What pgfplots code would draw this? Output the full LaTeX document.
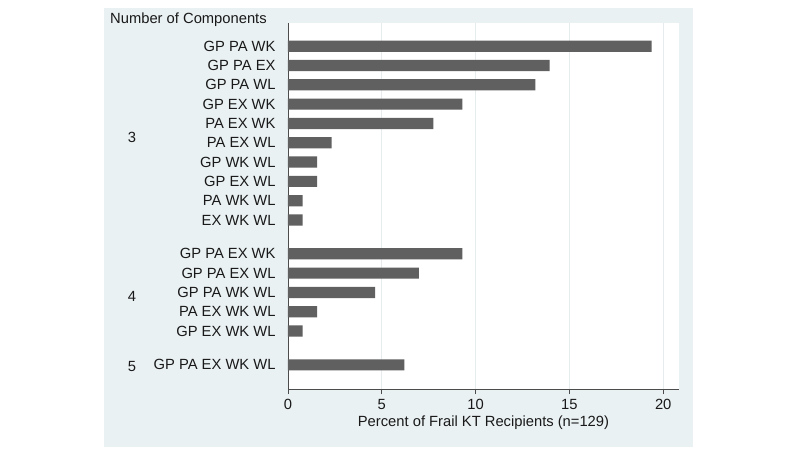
\documentclass[border=0pt]{standalone}
\usepackage{pgfplots}
\pgfplotsset{compat=1.18}
\usepackage{fontspec}
\setmainfont{Liberation Sans}
\definecolor{panel}{RGB}{234,241,243}
\definecolor{barc}{RGB}{96,96,96}
\definecolor{gridc}{RGB}{230,236,238}
\begin{document}
\begin{tikzpicture}
\fill[white] (-288bp,-86bp) rectangle (500bp,389bp);
\fill[panel] (-184bp,-58bp) rectangle (405bp,381bp);
\begin{axis}[
  at={(0,0)}, anchor=south west,
  scale only axis, width=391bp, height=366bp,
  xbar, bar width=0.58, bar shift=0pt,
  xmin=0, xmax=20.84, ymin=-1.2, ymax=17.75, y dir=reverse,
  axis background/.style={fill=white},
  axis x line*=bottom, axis y line*=left,
  axis line style={-, draw=black!70, line width=0.8pt},
  xtick={0,5,10,15,20},
  xmajorgrids, grid style={gridc, line width=0.8pt},
  xtick align=outside, major tick length=5bp,
  x tick style={draw=black!70, line width=0.8pt},
  y tick style={draw=none},
  ytick={0,1,2,3,4,5,6,7,8,9,10.75,11.75,12.75,13.75,14.75,16.5},
  yticklabels={GP PA WK, GP PA EX, GP PA WL, GP EX WK, PA EX WK, PA EX WL, GP WK WL, GP EX WL, PA WK WL, EX WK WL, GP PA EX WK, GP PA EX WL, GP PA WK WL, PA EX WK WL, GP EX WK WL, GP PA EX WK WL},
  tick label style={font=\fontsize{14.8}{17}\selectfont, text=black!90},
  /pgf/number format/assume math mode=true,
  yticklabel style={xshift=-4bp},
  xticklabel style={yshift=-2bp},
  xlabel={Percent of Frail KT Recipients (n=129)},
  xlabel style={font=\fontsize{14.8}{17}\selectfont, text=black!90, at={(rel axis cs:0.5,0)}, anchor=center, yshift=-34bp},
  clip=false,
]
\addplot[fill=barc, draw=none] coordinates {
(19.38,0) (13.95,1) (13.18,2) (9.30,3) (7.75,4) (2.33,5) (1.55,6) (1.55,7) (0.78,8) (0.78,9)
(9.30,10.75) (6.98,11.75) (4.65,12.75) (1.55,13.75) (0.78,14.75) (6.20,16.5)};
\node[font=\fontsize{14.8}{17}\selectfont, text=black!90] at (axis cs:-8.32,4.75) {3};
\node[font=\fontsize{14.8}{17}\selectfont, text=black!90] at (axis cs:-8.32,12.94) {4};
\node[font=\fontsize{14.8}{17}\selectfont, text=black!90] at (axis cs:-8.32,16.61) {5};
\end{axis}
\node[anchor=west, font=\fontsize{14.8}{17}\selectfont, text=black!90, inner sep=0pt] at (-178bp,369bp) {Number of Components};
\end{tikzpicture}
\end{document}
